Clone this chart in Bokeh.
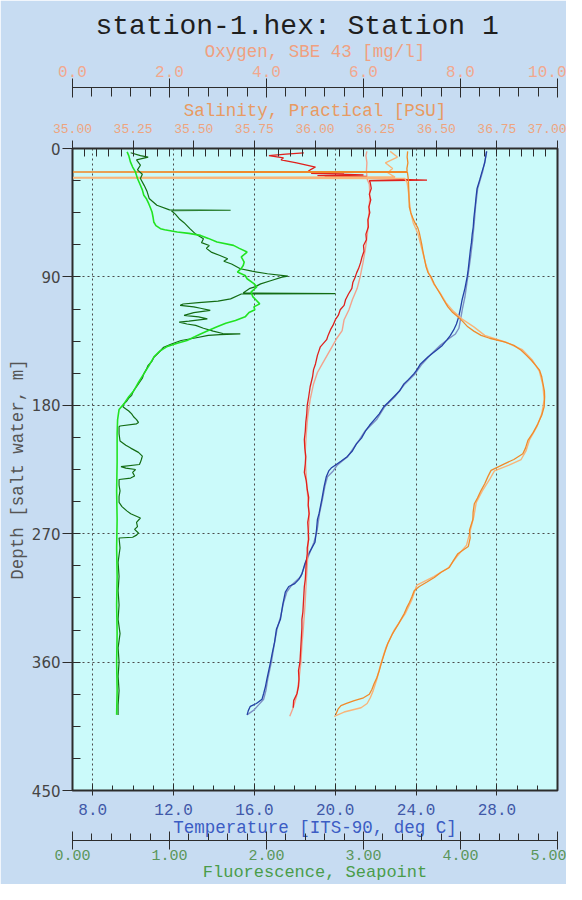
from bokeh.plotting import figure
from bokeh.models import Range1d, LinearAxis, FixedTicker, NumeralTickFormatter, Title
from bokeh.embed import file_html
from bokeh.resources import INLINE

# ---------------- data (depth m, value) ----------------
temp_down = [(2, 27.49), (10, 27.40), (16, 27.27), (22, 27.15), (28, 27.02), (34, 26.97), (40, 26.93),
             (49, 26.86), (55, 26.83), (60, 26.78), (66, 26.74), (71, 26.69), (80, 26.62), (85, 26.58),
             (90, 26.53), (98, 26.42), (106, 26.28), (112, 26.20), (118, 26.11), (123, 26.00), (127, 25.87),
             (131, 25.70), (134, 25.54), (138, 25.30), (141, 25.04), (146, 24.60), (151, 24.22), (155, 24.05),
             (158, 23.89), (162, 23.62), (165, 23.40), (170, 23.18), (174, 22.90), (178, 22.62), (181, 22.40),
             (186, 22.18), (189, 22.00), (194, 21.70), (198, 21.50), (203, 21.30), (207, 21.05), (212, 20.85),
             (216, 20.59), (219, 20.30), (222, 20.00), (224, 19.80), (226, 19.68), (230, 19.56), (237, 19.45),
             (245, 19.35), (256, 19.20), (260, 19.12), (268, 19.07), (276, 19.00), (284, 18.69), (291, 18.50),
             (298, 18.36), (302, 18.20), (305, 18.00), (307, 17.70), (311, 17.53), (320, 17.40), (330, 17.29),
             (337, 17.09), (346, 17.00), (354, 16.88), (360, 16.80), (366, 16.71), (372, 16.62), (377, 16.55),
             (382, 16.46), (386, 16.38), (389, 16.10), (391, 15.80), (394, 15.70), (397, 15.64)]
temp_up = [(397, 15.64), (393.7, 15.97), (390, 16.21), (386, 16.46), (380, 16.57), (372, 16.66), (360, 16.84),
           (348, 16.98), (337, 17.12), (328, 17.30), (318, 17.45), (311, 17.60), (306, 17.85), (300, 18.30),
           (292, 18.50), (284, 18.72), (276, 18.95), (268, 19.10), (256, 19.22), (245, 19.38), (236, 19.50),
           (230, 19.62), (226, 19.90), (222, 20.10), (219, 20.35), (216, 20.62), (210, 20.90), (204, 21.20),
           (198, 21.48), (190, 22.05), (181, 22.45), (174, 22.95), (165, 23.45), (158, 23.95), (151, 24.30),
           (144, 24.75), (138, 25.20), (134, 25.55), (130, 25.95), (126, 26.12), (120, 26.20), (112, 26.30),
           (104, 26.42), (96, 26.50), (88, 26.58), (76, 26.70), (64, 26.80), (52, 26.88), (40, 26.95),
           (28, 27.05), (16, 27.30), (8, 27.42), (2, 27.50)]

sal_down = [(2, 36.382), (6, 36.380), (10, 36.383), (14, 36.379), (16.2, 36.380), (16.5, 34.0), (16.8, 36.381),
            (19, 36.383), (22, 36.385), (26, 36.386), (30, 36.387), (36, 36.388), (41, 36.389), (45, 36.395),
            (48.6, 36.403), (52, 36.412), (55.6, 36.424), (59, 36.430), (63, 36.435), (67, 36.440), (71, 36.444),
            (77, 36.451), (83, 36.458), (87, 36.466), (90, 36.479), (95, 36.492), (99, 36.506), (103, 36.520),
            (106, 36.530), (111, 36.548), (115, 36.568), (118, 36.589), (121, 36.608), (125, 36.630),
            (128, 36.655), (131, 36.685), (133, 36.720), (135.5, 36.781), (138, 36.820), (141.4, 36.850),
            (145, 36.872), (148.4, 36.892), (152, 36.910), (155.4, 36.926), (160, 36.935), (164.8, 36.940),
            (170, 36.946), (174, 36.947), (181, 36.945), (187, 36.935), (193, 36.919), (199, 36.900),
            (204.6, 36.878), (210, 36.868), (214, 36.857), (218, 36.820), (221, 36.781), (225.6, 36.726),
            (230, 36.713), (235, 36.700), (239.6, 36.685), (245, 36.670), (249, 36.657), (255, 36.652),
            (260, 36.651), (267.5, 36.637), (273, 36.640), (279, 36.632), (284, 36.589), (289, 36.570),
            (293.7, 36.554), (297, 36.520), (300.7, 36.492), (304, 36.460), (307, 36.430), (310, 36.409),
            (314, 36.400), (318, 36.390), (322, 36.378), (326, 36.368), (333, 36.345), (340, 36.320),
            (347, 36.300), (354, 36.286), (360, 36.275), (366, 36.265), (371, 36.255), (375, 36.244),
            (379, 36.235), (382.5, 36.224), (385, 36.200), (387, 36.162), (389, 36.130), (390.5, 36.107),
            (393, 36.095), (396.5, 36.086)]
sal_up = [(398, 36.079), (395, 36.120), (392, 36.190), (389, 36.215), (385, 36.228), (380, 36.240), (372, 36.255),
          (362, 36.270), (350, 36.292), (338, 36.325), (326, 36.372), (316, 36.400), (310, 36.412), (306, 36.420),
          (300, 36.490), (294, 36.550), (286, 36.585), (278, 36.625), (268, 36.640), (258, 36.655), (248, 36.665),
          (240, 36.690), (232, 36.720), (226, 36.740), (222, 36.800), (218, 36.850), (212, 36.870), (204, 36.885),
          (195, 36.915), (186, 36.935), (176, 36.945), (166, 36.940), (156, 36.925), (148, 36.895), (141, 36.855),
          (136, 36.790), (131, 36.700), (125, 36.655), (120, 36.610), (114, 36.570), (108, 36.540), (101, 36.515),
          (95, 36.490), (88, 36.470), (80, 36.455), (70, 36.440), (60, 36.425), (52, 36.405), (45, 36.395),
          (38, 36.390), (30, 36.385), (24, 36.380), (21, 36.370), (20.5, 34.0), (20, 36.330), (17, 36.300),
          (14, 36.320), (10, 36.290), (6, 36.340), (2, 36.310)]

oxy_down = [(3, 4.77), (4, 4.40), (5, 4.05), (6.5, 4.35), (8, 4.30), (10, 4.62), (13, 5.01), (15, 4.90),
            (16, 4.86), (17, 5.60), (17.5, 4.92), (18.5, 6.00), (19, 5.05), (19.5, 6.07), (20, 5.20),
            (21, 6.05), (22.2, 7.31), (22.6, 6.12), (24, 6.14), (28, 6.16), (32, 6.12), (36, 6.15), (41, 6.11),
            (45, 6.13), (50, 6.09), (55, 6.10), (60, 6.05), (64, 6.06), (68, 6.00), (72, 6.01), (76, 5.97),
            (80, 5.94), (84, 5.90), (87, 5.86), (90, 5.83), (94, 5.78), (98, 5.76), (102, 5.69), (106, 5.63),
            (110, 5.60), (113, 5.52), (117, 5.48), (120, 5.42), (124, 5.37), (127, 5.32), (131, 5.27),
            (134, 5.24), (139, 5.11), (142, 5.08), (145, 5.05), (151, 5.01), (155, 4.97), (160, 4.95),
            (167, 4.90), (174, 4.87), (180, 4.84), (186, 4.83), (192, 4.81), (198, 4.80), (204, 4.78),
            (210, 4.79), (216, 4.81), (221, 4.80), (227, 4.78), (233, 4.82), (239, 4.84), (244.5, 4.87),
            (250, 4.86), (256, 4.88), (262, 4.85), (267.5, 4.86), (274, 4.87), (280, 4.84), (284, 4.84),
            (290, 4.82), (296, 4.81), (302, 4.80), (307, 4.78), (313, 4.77), (319, 4.76), (325, 4.75),
            (330, 4.73), (336, 4.73), (342, 4.72), (348, 4.71), (354, 4.70), (360, 4.69), (366, 4.66),
            (372, 4.67), (377, 4.66), (382, 4.63), (387, 4.56), (392, 4.55)]
oxy_up = [(398, 4.48), (392, 4.55), (384, 4.62), (372, 4.67), (360, 4.71), (348, 4.73), (336, 4.76), (322, 4.79),
          (310, 4.81), (298, 4.83), (286, 4.85), (272, 4.86), (260, 4.88), (248, 4.86), (236, 4.83), (224, 4.81),
          (212, 4.80), (200, 4.82), (188, 4.85), (176, 4.90), (165, 4.97), (157, 5.05), (151, 5.15), (145, 5.25),
          (139, 5.35), (133, 5.45), (127.6, 5.56), (120, 5.60), (113, 5.70), (106, 5.77), (98, 5.87), (90, 5.93),
          (80, 5.99), (70, 6.04), (60, 6.08), (50, 6.10), (40, 6.12), (32, 6.13), (25, 6.12), (22, 6.08),
          (16, 6.06), (10, 6.07), (5, 6.05), (2, 6.07)]

fluo_down = [(3, 0.60), (5, 0.70), (6, 0.78), (8, 0.66), (11.7, 0.70), (15, 0.67), (18, 0.72), (21, 0.70),
             (26, 0.74), (30.4, 0.77), (35, 0.79), (39.8, 0.87), (43.0, 1.00), (43.3, 1.63), (43.6, 1.02),
             (46, 1.06), (49.2, 1.10), (52, 1.15), (56.2, 1.21), (60, 1.27), (63.2, 1.35), (66, 1.33), (68, 1.41),
             (70, 1.38), (72.6, 1.43), (75, 1.52), (77.3, 1.60), (79, 1.56), (81, 1.64), (84.3, 1.73), (86, 1.85),
             (87.8, 2.01), (89.5, 2.22), (90.2, 2.16), (92.5, 2.05), (94.9, 1.94), (97, 1.88), (98, 1.83),
             (100.7, 1.77), (101.3, 1.76), (101.7, 2.71), (102, 1.74), (105.4, 1.63), (107, 1.50), (108, 1.30),
             (109, 1.14), (110, 1.11), (111, 1.25), (112, 1.32), (113.5, 1.42), (115, 1.25), (117, 1.15),
             (118, 1.30), (119.4, 1.39), (121, 1.20), (121.7, 1.10), (123, 1.18), (124, 1.27), (126, 1.35),
             (128, 1.45), (129.7, 1.55), (130, 1.73), (130.4, 1.52), (131, 1.40), (133, 1.25), (134.6, 1.12),
             (137, 1.02), (139.3, 0.94), (143, 0.89), (146.3, 0.84), (149, 0.82), (152, 0.78), (155, 0.76),
             (158, 0.735), (161, 0.72), (164, 0.69), (167, 0.66), (169.7, 0.63), (173, 0.61), (175, 0.58),
             (177, 0.56), (179, 0.53), (181, 0.52), (182, 0.54), (184, 0.58), (186, 0.61), (188, 0.63),
             (190, 0.66), (192, 0.68), (193, 0.66), (194.5, 0.49), (195, 0.48), (196, 0.48), (200, 0.48),
             (205, 0.49), (208, 0.55), (210, 0.60), (213, 0.68), (215.6, 0.72), (218, 0.71), (220, 0.70),
             (221.5, 0.69), (223, 0.50), (224, 0.55), (225, 0.65), (227, 0.62), (229.5, 0.64), (231, 0.60),
             (232, 0.48), (236, 0.48), (240, 0.49), (244, 0.48), (248, 0.48), (251, 0.51), (254, 0.56),
             (256, 0.60), (259, 0.70), (262, 0.66), (265, 0.67), (267, 0.64), (269.5, 0.68), (271, 0.66),
             (272.5, 0.62), (273, 0.48), (280, 0.49), (290, 0.47), (300, 0.48), (310, 0.47), (320, 0.48),
             (330, 0.47), (340, 0.49), (350, 0.47), (360, 0.48), (370, 0.47), (380, 0.48), (390, 0.47),
             (397, 0.47)]
fluo_up = [(397, 0.455), (380, 0.46), (360, 0.455), (340, 0.46), (320, 0.455), (300, 0.46), (280, 0.455),
           (260, 0.46), (240, 0.455), (220, 0.46), (200, 0.46), (190, 0.465), (183, 0.48), (179, 0.53),
           (174, 0.58), (170, 0.63), (164, 0.68), (158, 0.735), (152, 0.79), (146, 0.84), (142, 0.90),
           (139, 0.97), (136.5, 1.08), (134.6, 1.18), (132, 1.26), (130, 1.32), (127.5, 1.40), (125, 1.49),
           (122.5, 1.58), (120.6, 1.68), (118, 1.78), (115, 1.82), (113, 1.88), (111, 1.87), (108.9, 1.93),
           (106, 1.89), (104, 1.86), (100.7, 1.84), (97, 1.90), (94.7, 1.87), (91.3, 1.80), (89, 1.78),
           (86.6, 1.70), (84, 1.74), (82, 1.76), (79.6, 1.77), (76, 1.74), (72.6, 1.80), (70, 1.72),
           (67.9, 1.66), (65.6, 1.49), (63, 1.40), (60.9, 1.32), (59.5, 1.20), (58.5, 1.08), (57, 0.95),
           (56.2, 0.907), (54, 0.86), (51.5, 0.838), (48, 0.83), (44.5, 0.82), (41, 0.80), (38.7, 0.786),
           (35, 0.76), (32.8, 0.735), (29, 0.72), (25.8, 0.70), (21, 0.67), (16.4, 0.649), (13, 0.62),
           (9.4, 0.597), (5, 0.58), (2.4, 0.563)]

depth_ticks = [0, 90, 180, 270, 360, 450]
temp_ticks = [8, 12, 16, 20, 24, 28]
fluo_ticks = [0, 1, 2, 3, 4, 5]
oxy_ticks = [0, 2, 4, 6, 8, 10]
sal_ticks = [35.00, 35.25, 35.50, 35.75, 36.00, 36.25, 36.50, 36.75, 37.00]

TITLE = "station-1.hex: Station 1"
T_LABEL = "Temperature [ITS-90, deg C]"
F_LABEL = "Fluorescence, Seapoint"
O_LABEL = "Oxygen, SBE 43 [mg/l]"
S_LABEL = "Salinity, Practical [PSU]"
Y_LABEL = "Depth [salt water, m]"

# ---------------- figure ----------------
MONO = "Liberation Mono"
AX = "#2c2c2c"

p = figure(width=566, height=884, output_backend="svg", toolbar_location=None,
           x_range=Range1d(7, 31), y_range=Range1d(450, 0), title_location=None,
           min_border_left=72, min_border_right=9, min_border_top=148, min_border_bottom=93)
p.extra_x_ranges = {"oxy": Range1d(0, 10), "sal": Range1d(35, 37), "fluo": Range1d(0, 5)}
p.border_fill_color = "#c7dcf2"
p.background_fill_color = "#cbfafa"
p.outline_line_color = AX
p.outline_line_width = 2


def style(ax, lab_color, lab_size, title_color, title_size, ticks, minor, fmt,
          tin, tout, min_in, min_out, lstand, tstand):
    ax.ticker = FixedTicker(ticks=ticks, minor_ticks=minor)
    if fmt:
        ax.formatter = NumeralTickFormatter(format=fmt)
    ax.axis_line_color = AX
    ax.major_tick_line_color = AX
    ax.minor_tick_line_color = AX
    ax.major_tick_in = tin
    ax.major_tick_out = tout
    ax.minor_tick_in = min_in
    ax.minor_tick_out = min_out
    ax.major_label_text_font = MONO
    ax.major_label_text_font_size = lab_size
    ax.major_label_text_color = lab_color
    ax.major_label_standoff = lstand
    ax.axis_label_text_font = MONO
    ax.axis_label_text_font_size = title_size
    ax.axis_label_text_font_style = "normal"
    ax.axis_label_text_color = title_color
    ax.axis_label_standoff = tstand


def gap(size):
    # blank title used only to leave vertical room between stacked axes
    return Title(text=" ", text_font_size="1px", standoff=size)


# temperature axis (bottom, main)
tax = p.xaxis[0]
style(tax, "#4058a8", "16px", "#3b5cc4", "17.5px", temp_ticks, list(range(7, 32)), "0.0", 7, 5, 5, 0, 8, 0)
tax.axis_label = T_LABEL

# fluorescence axis (bottom, outer)
fax = LinearAxis(x_range_name="fluo")
style(fax, "#5a965a", "15px", "#4a9c4a", "17px", fluo_ticks, [i * 0.2 for i in range(26)], "0.00", 9, 9, 7, 0, 0, 0)
fax.axis_label = F_LABEL
p.add_layout(fax, "below")

# salinity axis (top, inner)
sax = LinearAxis(x_range_name="sal")
style(sax, "#eea47e", "13px", "#e89a62", "17.5px", sal_ticks, [35 + i * 0.05 for i in range(41)], "0.00",
      7, 8, 8, 0, 8, 0)
sax.axis_label = S_LABEL
p.add_layout(sax, "above")
p.add_layout(gap(7), "above")

# oxygen axis (top, outer)
oax = LinearAxis(x_range_name="oxy")
style(oax, "#f2a88e", "16px", "#f0a080", "17.5px", oxy_ticks, [i * 0.4 for i in range(26)], "0.0",
      10, 9, 9, 0, 2, 1)
oax.axis_label = O_LABEL
p.add_layout(oax, "above")

p.add_layout(Title(text=TITLE, align="left", offset=23, text_font=MONO, text_font_size="28px",
                   text_font_style="normal", text_color="#1e1e1e", standoff=-6), "above")

# depth axis
yax = p.yaxis[0]
yax.ticker = FixedTicker(ticks=depth_ticks, minor_ticks=[i * 22.5 for i in range(21)])
yax.axis_line_color = AX
yax.major_tick_line_color = AX
yax.minor_tick_line_color = AX
yax.major_tick_in = 0
yax.major_tick_out = 10
yax.minor_tick_in = 8
yax.minor_tick_out = 0
yax.major_label_standoff = 2
yax.major_label_text_font = "DejaVu Sans"
yax.major_label_text_font_size = "15px"
yax.major_label_text_color = "#454545"
yax.axis_label = Y_LABEL
yax.axis_label_text_font = MONO
yax.axis_label_text_font_size = "17.5px"
yax.axis_label_text_font_style = "normal"
yax.axis_label_text_color = "#555555"
yax.axis_label_standoff = 1

# grid
p.xgrid.ticker = FixedTicker(ticks=temp_ticks)
p.ygrid.ticker = FixedTicker(ticks=[90, 180, 270, 360])
for g in (p.xgrid[0], p.ygrid[0]):
    g.grid_line_color = "#4a4a4a"
    g.grid_line_dash = "2 3"
    g.grid_line_width = 1


def xs(series):
    return [v for d, v in series]


def ds(series):
    return [d for d, v in series]


# traces
p.line(xs(temp_up), ds(temp_up), line_color="#7f90c4", line_width=1.4)
p.line(xs(temp_down), ds(temp_down), line_color="#2342a6", line_width=1.3)
p.line(xs(oxy_up), ds(oxy_up), line_color="#f4a28c", line_width=1.4, x_range_name="oxy")
p.line(xs(oxy_down), ds(oxy_down), line_color="#e0201c", line_width=1.3, x_range_name="oxy")
p.line(xs(sal_up), ds(sal_up), line_color="#f9b478", line_width=1.4, x_range_name="sal")
p.line(xs(sal_down), ds(sal_down), line_color="#f08a2a", line_width=1.3, x_range_name="sal")
p.line(xs(fluo_down), ds(fluo_down), line_color="#136c13", line_width=1.2, x_range_name="fluo")
p.line(xs(fluo_up), ds(fluo_up), line_color="#22e322", line_width=1.6, x_range_name="fluo")

open("out.html", "w").write(file_html(p, INLINE))
